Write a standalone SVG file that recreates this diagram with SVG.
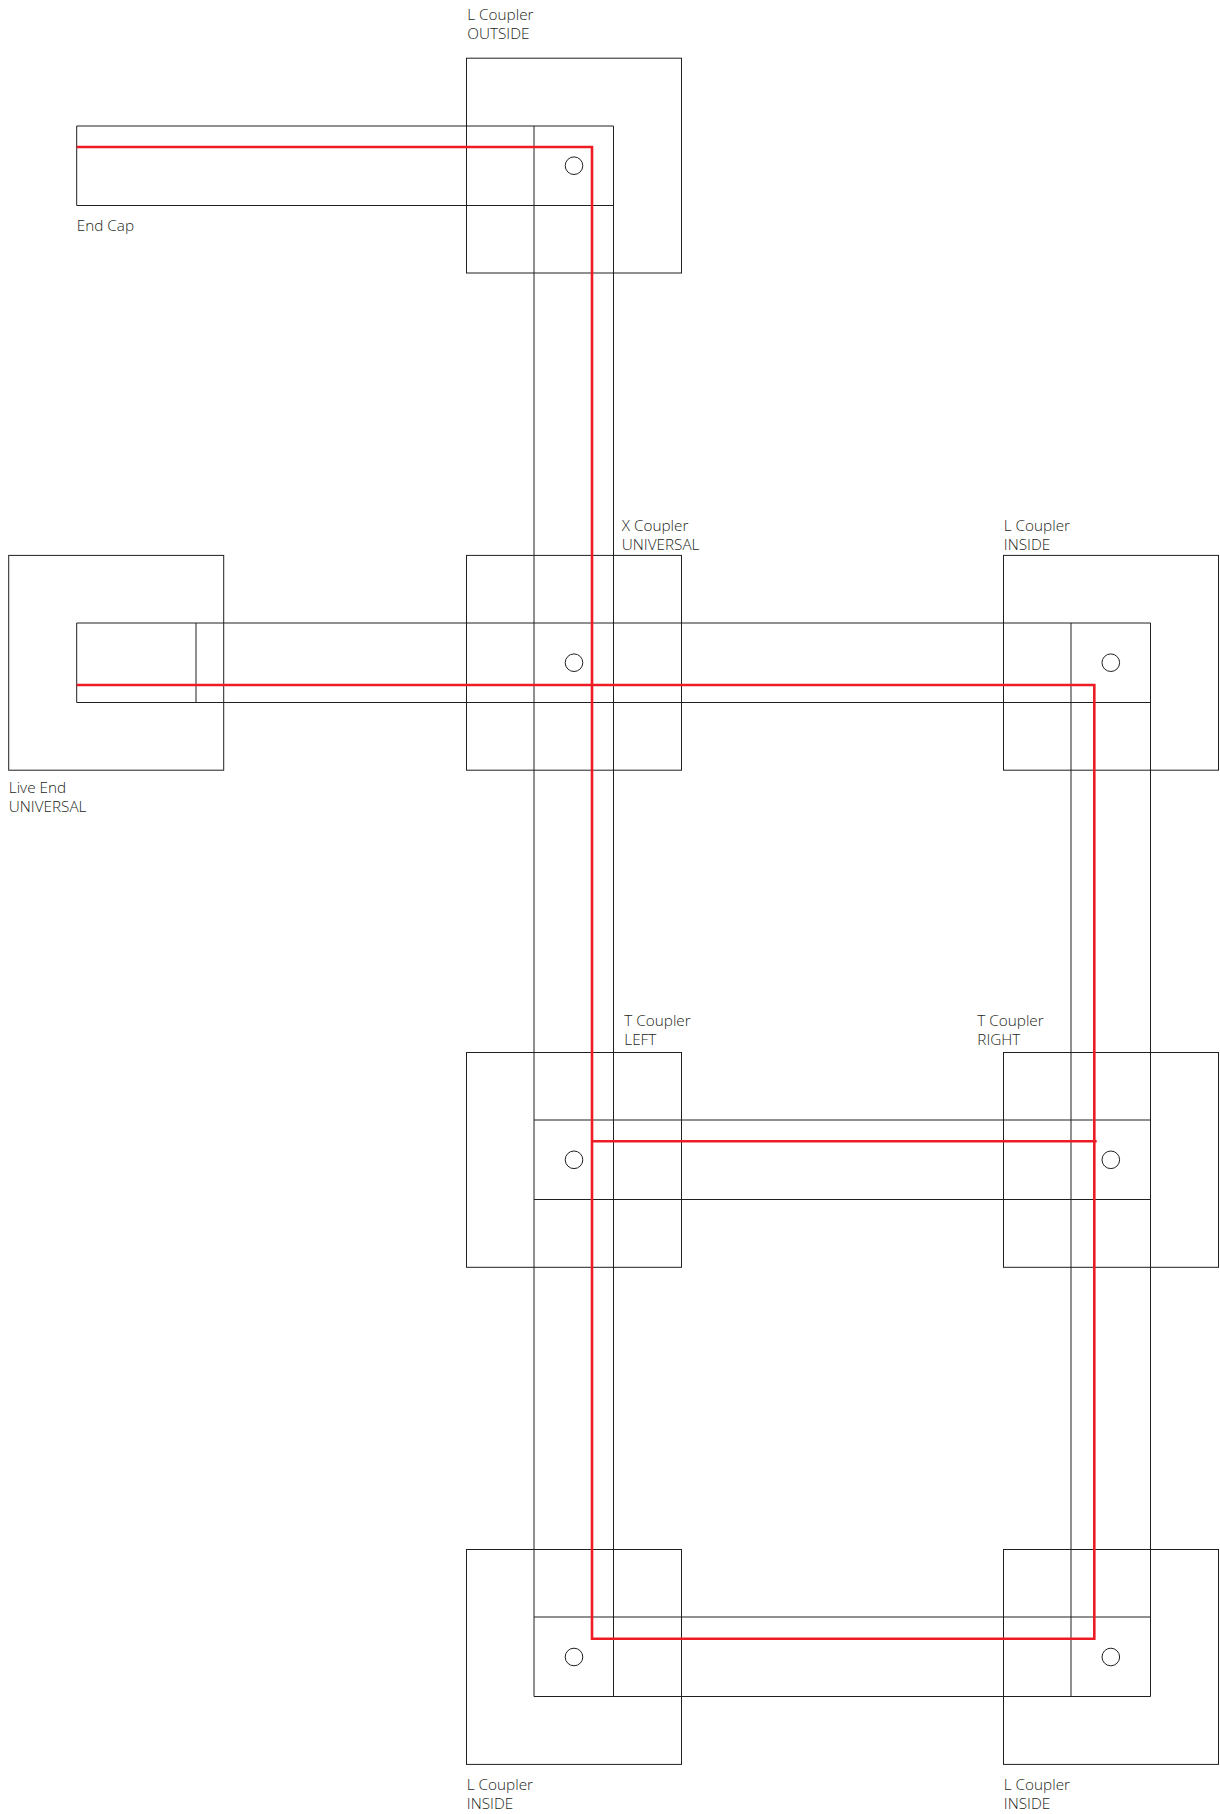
<svg xmlns="http://www.w3.org/2000/svg" width="1220" height="1814" viewBox="0 0 1220 1814">
<style>
.b{fill:none;stroke:#231f20;stroke-width:1}
.r{fill:none;stroke:#ed1c24;stroke-width:2.6;stroke-linejoin:miter}
text{font-family:"Open Sans","Noto Sans","Liberation Sans",sans-serif;font-weight:300;font-size:15.3px;fill:#231f20}
</style>
<rect width="1220" height="1814" fill="#fff"/>
<g id="track-end-cap"><path class="b" d="M613.5 126H76.7V205.5H613.5"/></g>
<g id="track-vertical-left"><path class="b" d="M534 126V1696.5M613.5 126V1696.5"/></g>
<g id="track-live"><path class="b" d="M1150.5 623H76.7V702.5H1150.5M196 623V702.5"/></g>
<g id="track-vertical-right"><path class="b" d="M1071 623V1696.5M1150.5 623V1696.5"/></g>
<g id="track-t"><path class="b" d="M534 1120H1150.5M534 1199.5H1150.5"/></g>
<g id="track-bottom"><path class="b" d="M534 1617H1150.5M534 1696.5H1150.5"/></g>
<g id="l-coupler-outside"><rect class="b" x="466.5" y="58.2" width="215" height="214.8"/><circle class="b" cx="574" cy="165.7" r="8.8"/><text x="467.3" y="20">L Coupler</text><text x="467.3" y="39">OUTSIDE</text></g>
<g id="end-cap"><text x="76.8" y="230.7">End Cap</text></g>
<g id="live-end"><rect class="b" x="8.7" y="555.4" width="215" height="214.8"/><text x="8.8" y="793.3">Live End</text><text x="8.8" y="812">UNIVERSAL</text></g>
<g id="x-coupler"><rect class="b" x="466.5" y="555.4" width="215" height="214.8"/><circle class="b" cx="574" cy="662.7" r="8.8"/><text x="621.8" y="531">X Coupler</text><text x="621.8" y="550">UNIVERSAL</text></g>
<g id="l-coupler-inside-top"><rect class="b" x="1003.5" y="555.4" width="215" height="214.8"/><circle class="b" cx="1110.8" cy="662.7" r="8.8"/><text x="1003.8" y="531">L Coupler</text><text x="1003.8" y="550">INSIDE</text></g>
<g id="t-coupler-left"><rect class="b" x="466.5" y="1052.5" width="215" height="214.8"/><circle class="b" cx="574" cy="1159.8" r="8.8"/><text x="624.3" y="1026">T Coupler</text><text x="624.3" y="1045">LEFT</text></g>
<g id="t-coupler-right"><rect class="b" x="1003.5" y="1052.5" width="215" height="214.8"/><circle class="b" cx="1110.8" cy="1159.8" r="8.8"/><text x="977.3" y="1026">T Coupler</text><text x="977.3" y="1045">RIGHT</text></g>
<g id="l-coupler-inside-left"><rect class="b" x="466.5" y="1549.5" width="215" height="214.9"/><circle class="b" cx="574" cy="1657" r="8.8"/><text x="466.8" y="1790">L Coupler</text><text x="466.8" y="1809">INSIDE</text></g>
<g id="l-coupler-inside-right"><rect class="b" x="1003.5" y="1549.5" width="215" height="214.9"/><circle class="b" cx="1110.8" cy="1657" r="8.8"/><text x="1003.8" y="1790">L Coupler</text><text x="1003.8" y="1809">INSIDE</text></g>
<g id="connectors">
<path class="r" d="M76.7 147H592V1638.7H1094.3V685H76.7"/>
<path class="r" d="M592 1141.3H1096.7"/>
</g>
</svg>
